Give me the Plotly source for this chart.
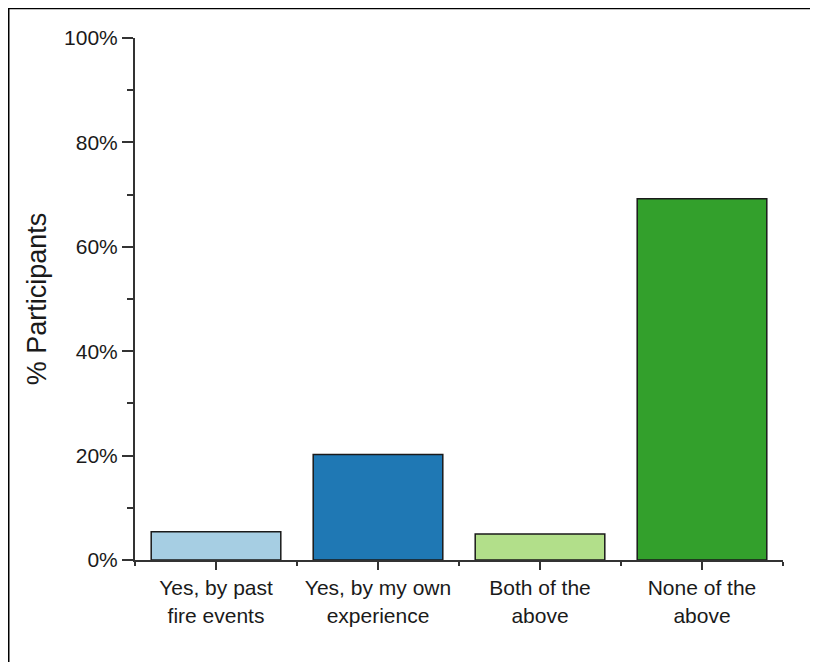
import plotly.graph_objects as go

categories = ["Yes, by past<br>fire events", "Yes, by my own<br>experience",
              "Both of the<br>above", "None of the<br>above"]
values = [5.4, 20.2, 5.0, 69.2]
colors = ["#a6cee3", "#1f78b4", "#b2df8a", "#33a02c"]
y_ticks = [0, 20, 40, 60, 80, 100]
y_ticktext = [f"{v}%" for v in y_ticks]

xpos = list(range(len(categories)))

W, H = 810, 654
L, R, T, B = 127, 35, 30, 102
PW, PH = W - L - R, H - T - B

fig = go.Figure(go.Bar(
    x=xpos, y=values, width=0.8,
    marker=dict(color=colors, line=dict(color="#1a1a1a", width=1.5)),
    hoverinfo="y",
))

FONT = "Liberation Sans, Arial, sans-serif"
fig.update_layout(
    width=W, height=H,
    margin=dict(l=L, r=R, t=T, b=B),
    paper_bgcolor="white", plot_bgcolor="white",
    font=dict(family=FONT, color="#1a1a1a", size=21),
    showlegend=False,
    xaxis=dict(
        range=[-0.5, 3.5], tickmode="array", tickvals=xpos, ticktext=categories,
        showgrid=False, zeroline=False, showline=True, linecolor="#333333", linewidth=2,
        ticks="outside", ticklen=8, tickwidth=2, tickcolor="#333333",
        tickfont=dict(size=21),
        minor=dict(tickmode="linear", tick0=0.5, dtick=1, ticks="outside", ticklen=4,
                   tickwidth=2, tickcolor="#333333", showgrid=False),
    ),
    yaxis=dict(
        range=[0, 100], tickmode="array", tickvals=y_ticks, ticktext=y_ticktext,
        showgrid=False, zeroline=False, showline=True, linecolor="#333333", linewidth=2,
        ticks="outside", ticklen=11, tickwidth=2, tickcolor="#333333",
        tickfont=dict(size=21),
        minor=dict(tickmode="linear", tick0=10, dtick=20, ticks="outside", ticklen=6,
                   tickwidth=2, tickcolor="#333333", showgrid=False),
        title=dict(text="% Participants", font=dict(size=27), standoff=10),
    ),
)

# frame lines (top and left) at the figure edge
fig.add_shape(type="line", xref="paper", yref="paper",
              x0=(0 - L) / PW, x1=(809 - L) / PW,
              y0=(H - B - 0) / PH, y1=(H - B - 0) / PH,
              line=dict(color="black", width=2.5))
fig.add_shape(type="line", xref="paper", yref="paper",
              x0=(0 - L) / PW, x1=(0 - L) / PW,
              y0=(H - B - 0) / PH, y1=(H - B - H) / PH,
              line=dict(color="black", width=3))

fig.write_html("out.html")
